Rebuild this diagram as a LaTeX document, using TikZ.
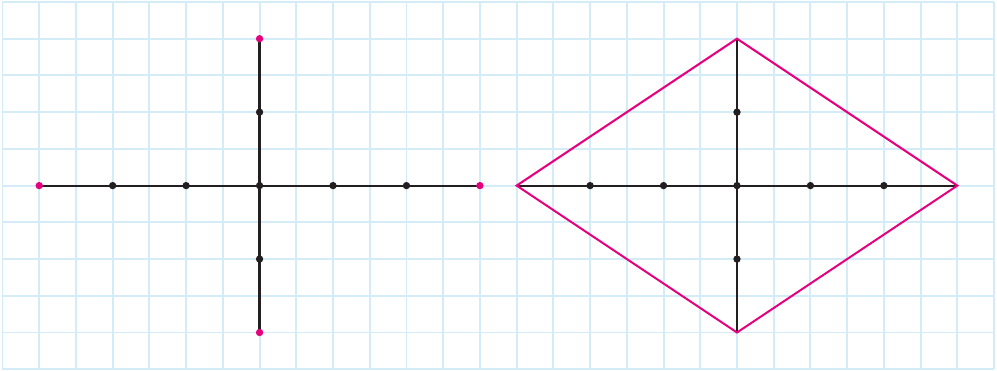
\documentclass[tikz,border=0pt]{standalone}
\usetikzlibrary{positioning}
\definecolor{gridblue}{HTML}{D3ECF8}
\definecolor{axisdark}{HTML}{231F20}
\definecolor{kitepink}{HTML}{E6007E}

\begin{document}
\begin{tikzpicture}[
  gridline/.style={draw=gridblue, line width=1.5pt},
  axis/.style={draw=axisdark, line width=1.7pt},
  kite/.style={draw=kitepink, line width=1.6pt, line join=miter},
  dot/.style={circle, fill=axisdark, inner sep=0pt, minimum size=2mm},
  pinkdot/.style={dot, fill=kitepink}
]
\useasboundingbox (-0.068,-0.027) rectangle (27.08,10.054);

% squared paper
\foreach \x in {0,...,27} \draw[gridline] (\x,0) -- (\x,10);
\foreach \y in {0,...,10} \draw[gridline] (0,\y) -- (27,\y);

% left: the two axes with their end points
\coordinate (lw) at (1,5);
\coordinate (le) at (13,5);
\coordinate (ln) at (7,9);
\coordinate (ls) at (7,1);
\draw[axis] (lw) -- (le);
\draw[axis] (ls) -- (ln);
\foreach \x in {3,5,7,9,11} \node[dot] (lh\x) at (\x,5) {};
\foreach \y in {3,7} \node[dot] (lv\y) at (7,\y) {};
\node[pinkdot] (lwdot) at (lw) {};
\node[pinkdot] (ledot) at (le) {};
\node[pinkdot] (lndot) at (ln) {};
\node[pinkdot] (lsdot) at (ls) {};

% right: the rhombus on the same axes
\coordinate (rw) at (14,5);
\coordinate (re) at (26,5);
\coordinate (rn) at (20,9);
\coordinate (rs) at (20,1);
\draw[axis] (rw) -- (re);
\draw[axis] (rs) -- (rn);
\draw[kite] (rw) -- (rn) -- (re) -- (rs) -- cycle;
\foreach \x in {16,18,20,22,24} \node[dot] (rh\x) at (\x,5) {};
\foreach \y in {3,7} \node[dot] (rv\y) at (20,\y) {};
\end{tikzpicture}
\end{document}
